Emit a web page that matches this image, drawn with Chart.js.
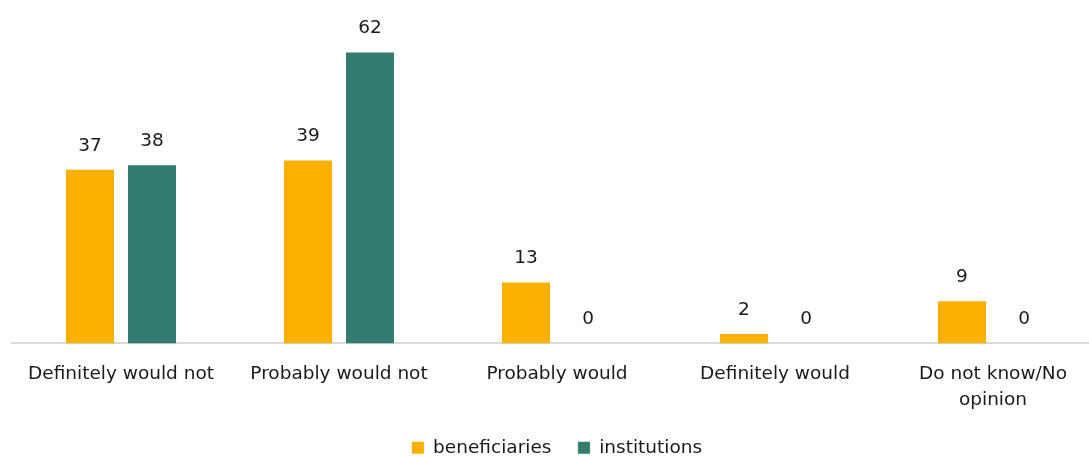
<!DOCTYPE html>
<html>
<head>
<meta charset="utf-8">
<script src="https://cdn.jsdelivr.net/npm/chart.js@4/dist/chart.umd.min.js"></script>
<style>
  html, body { margin: 0; padding: 0; background: #fff; overflow: hidden; }
  #wrap { width: 1102px; height: 467px; }
</style>
</head>
<body>
<div id="wrap"><canvas id="chart"></canvas></div>
<script>
const categories = [
  "Definitely would not",
  "Probably would not",
  "Probably would",
  "Definitely would",
  ["Do not know/No", "opinion"],
];
const beneficiaries = [37, 39, 13, 2, 9];
const institutions = [38, 62, 0, 0, 0];

const FONT = "'DejaVu Sans', Verdana, sans-serif";

// value labels above each bar (no datalabels plugin available offline)
const valueLabels = {
  id: "valueLabels",
  afterDatasetsDraw(chart) {
    const { ctx } = chart;
    ctx.save();
    ctx.font = `18.5px ${FONT}`;
    ctx.fillStyle = "#1a1a1a";
    ctx.textAlign = "center";
    ctx.textBaseline = "middle";
    chart.data.datasets.forEach((ds, i) => {
      chart.getDatasetMeta(i).data.forEach((bar, j) => {
        ctx.fillText(String(ds.data[j]), bar.x, bar.y - 24);
      });
    });
    ctx.restore();
  },
};

new Chart(document.getElementById("chart"), {
  type: "bar",
  data: {
    labels: categories,
    datasets: [
      { label: "beneficiaries", data: beneficiaries, backgroundColor: "#F9B000" },
      { label: "institutions", data: institutions, backgroundColor: "#337C6F" },
    ],
  },
  options: {
    responsive: true,
    maintainAspectRatio: false,
    animation: false,
    categoryPercentage: 0.569,
    barPercentage: 0.774,
    layout: { padding: { left: 12, right: 0, top: 15, bottom: 0 } },
    plugins: {
      legend: {
        position: "bottom",
        labels: {
          boxWidth: 12,
          boxHeight: 12,
          color: "#1a1a1a",
          font: { family: FONT, size: 18.5 },
          padding: 8,
          // widen the gap between the two legend entries
          generateLabels(chart) {
            const items = Chart.defaults.plugins.legend.labels.generateLabels(chart);
            items.forEach((it, i) => {
              if (i < items.length - 1) it.text += "\u2002\u2002";
            });
            return items;
          },
        },
      },
      tooltip: { enabled: false },
    },
    scales: {
      x: {
        grid: { display: false },
        border: { color: "#d9d9d9", width: 2 },
        ticks: {
          color: "#1a1a1a",
          font: { family: FONT, size: 18.5, lineHeight: 1.38 },
          padding: 10,
          maxRotation: 0,
          autoSkip: false,
        },
        title: {
          display: true,
          text: " ",
          font: { size: 2, lineHeight: 1 },
          padding: { top: 0, bottom: 6 },
        },
      },
      y: {
        display: false,
        min: 0,
        max: 70,
      },
    },
  },
  plugins: [valueLabels],
});
</script>
</body>
</html>
